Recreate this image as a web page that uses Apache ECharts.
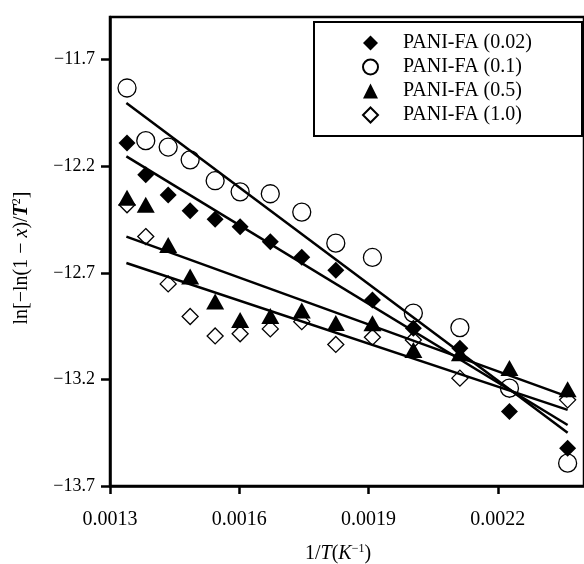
<!DOCTYPE html>
<html>
<head>
<meta charset="utf-8">
<script src="https://cdn.jsdelivr.net/npm/echarts@6/dist/echarts.min.js"></script>
<style>
  html, body { margin: 0; padding: 0; background: #fff; }
  #chart { width: 584px; height: 564px; }
</style>
</head>
<body>
<div id="chart"></div>
<script>
// 1/T values shared by all samples
const invT = [0.0013395, 0.001383, 0.001435, 0.001486, 0.001544, 0.001602, 0.001672,
  0.001745, 0.001824, 0.001909, 0.002004, 0.002112, 0.002227, 0.002362];

const pani002 = [-12.091, -12.240, -12.335, -12.409, -12.449, -12.484, -12.554,
  -12.627, -12.688, -12.827, -12.960, -13.054, -13.351, -13.523];
const pani01 = [-11.833, -12.080, -12.110, -12.170, -12.268, -12.320, -12.329,
  -12.415, -12.561, -12.628, -12.889, -12.957, -13.241, -13.593];
const pani05 = [-12.348, -12.381, -12.569, -12.717, -12.835, -12.921, -12.902,
  -12.877, -12.935, -12.936, -13.062, -13.077, -13.147, -13.246];
const pani10 = [-12.381, -12.530, -12.752, -12.905, -12.996, -12.986, -12.963,
  -12.929, -13.036, -13.002, -13.015, -13.194, -13.246, -13.296];

// fitted straight lines (end points)
const fitX = [0.001338, 0.002362];
const fit002 = [-12.154, -13.414];
const fit01 = [-11.903, -13.450];
const fit05 = [-12.530, -13.281];
const fit10 = [-12.654, -13.343];

const xTicks = [0.0013, 0.0016, 0.0019, 0.0022];
const yTicks = [-13.7, -13.2, -12.7, -12.2, -11.7];

const font = "Liberation Serif";

function pairs(xs, ys) {
  return xs.map((x, i) => [x, ys[i]]);
}

function scatter(name, data, symbol, size, open) {
  return {
    name: name,
    type: "scatter",
    data: pairs(invT, data),
    symbol: symbol,
    symbolSize: size,
    itemStyle: open
      ? { color: "#fff", borderColor: "#000", borderWidth: 1.3, opacity: 1 }
      : { color: "#000", opacity: 1 },
    emphasis: { disabled: true },
    z: 3,
  };
}

function fitLine(data) {
  return {
    type: "line",
    data: pairs(fitX, data),
    symbol: "none",
    lineStyle: { color: "#000", width: 2.5 },
    emphasis: { disabled: true },
    z: 5,
  };
}

const chart = echarts.init(document.getElementById("chart"));

chart.setOption({
  animation: false,
  backgroundColor: "#fff",
  grid: {
    left: 110,
    top: 17,
    width: 479,
    height: 469,
    show: true,
    borderColor: "#000",
    borderWidth: 2.5,
  },
  xAxis: {
    type: "value",
    min: 0.0013,
    max: 0.0024,
    axisLine: { lineStyle: { color: "#000", width: 2.5 } },
    axisTick: { length: 8, lineStyle: { color: "#000", width: 2.5 }, customValues: xTicks },
    axisLabel: {
      customValues: xTicks,
      margin: 24,
      color: "#000",
      fontFamily: font,
      fontSize: 20,
      formatter: (v) => v.toFixed(4),
    },
    splitLine: { show: false },
  },
  yAxis: {
    type: "value",
    min: -13.7,
    max: -11.5,
    axisLine: { lineStyle: { color: "#000", width: 2.5 } },
    axisTick: { length: 9, lineStyle: { color: "#000", width: 2.5 }, customValues: yTicks },
    axisLabel: {
      customValues: yTicks,
      margin: 15,
      color: "#000",
      fontFamily: font,
      fontSize: 18,
      formatter: (v) => "\u2212" + Math.abs(v).toFixed(1),
    },
    splitLine: { show: false },
  },
  legend: {
    orient: "vertical",
    left: 357,
    top: 28,
    itemGap: 4,
    itemWidth: 15,
    itemHeight: 15,
    data: ["PANI-FA (0.02)", "PANI-FA (0.1)", "PANI-FA (0.5)", "PANI-FA (1.0)"],
    textStyle: {
      color: "#000",
      fontFamily: font,
      fontSize: 20,
      lineHeight: 20,
      padding: [0, 0, 0, 20],
    },
    selectedMode: false,
  },
  graphic: [
    {
      type: "rect",
      shape: { x: 314, y: 22, width: 268, height: 114 },
      style: { fill: "none", stroke: "#000", lineWidth: 2 },
      z: 10,
    },
    {
      type: "text",
      x: 338,
      y: 554,
      style: {
        text: "{a|1/}{i|T}{a|(}{i|K}{s|\u22121}{a|)}",
        align: "center",
        verticalAlign: "middle",
        rich: {
          a: { fontFamily: font, fontSize: 20, lineHeight: 22, color: "#000" },
          i: { fontFamily: font, fontSize: 20, lineHeight: 22, fontStyle: "italic", color: "#000" },
          s: { fontFamily: font, fontSize: 12, verticalAlign: "top", color: "#000" },
        },
      },
    },
    {
      type: "text",
      x: 22,
      y: 258,
      rotation: Math.PI / 2,
      style: {
        text: "{a|ln[\u2212ln(1 \u2212 }{i|x}{a|)/}{bi|T}{s|2}{a|]}",
        align: "center",
        verticalAlign: "middle",
        rich: {
          a: { fontFamily: font, fontSize: 20, lineHeight: 22, color: "#000" },
          i: { fontFamily: font, fontSize: 20, lineHeight: 22, fontStyle: "italic", color: "#000" },
          bi: { fontFamily: font, fontSize: 20, lineHeight: 22, fontStyle: "italic", fontWeight: "bold", color: "#000" },
          s: { fontFamily: font, fontSize: 12, verticalAlign: "top", color: "#000" },
        },
      },
    },
  ],
  series: [
    scatter("PANI-FA (1.0)", pani10, "diamond", 16, true),
    scatter("PANI-FA (0.1)", pani01, "circle", 18, true),
    scatter("PANI-FA (0.02)", pani002, "diamond", 17, false),
    scatter("PANI-FA (0.5)", pani05, "triangle", [18, 16], false),
    fitLine(fit002),
    fitLine(fit01),
    fitLine(fit05),
    fitLine(fit10),
  ],
});
</script>
</body>
</html>
